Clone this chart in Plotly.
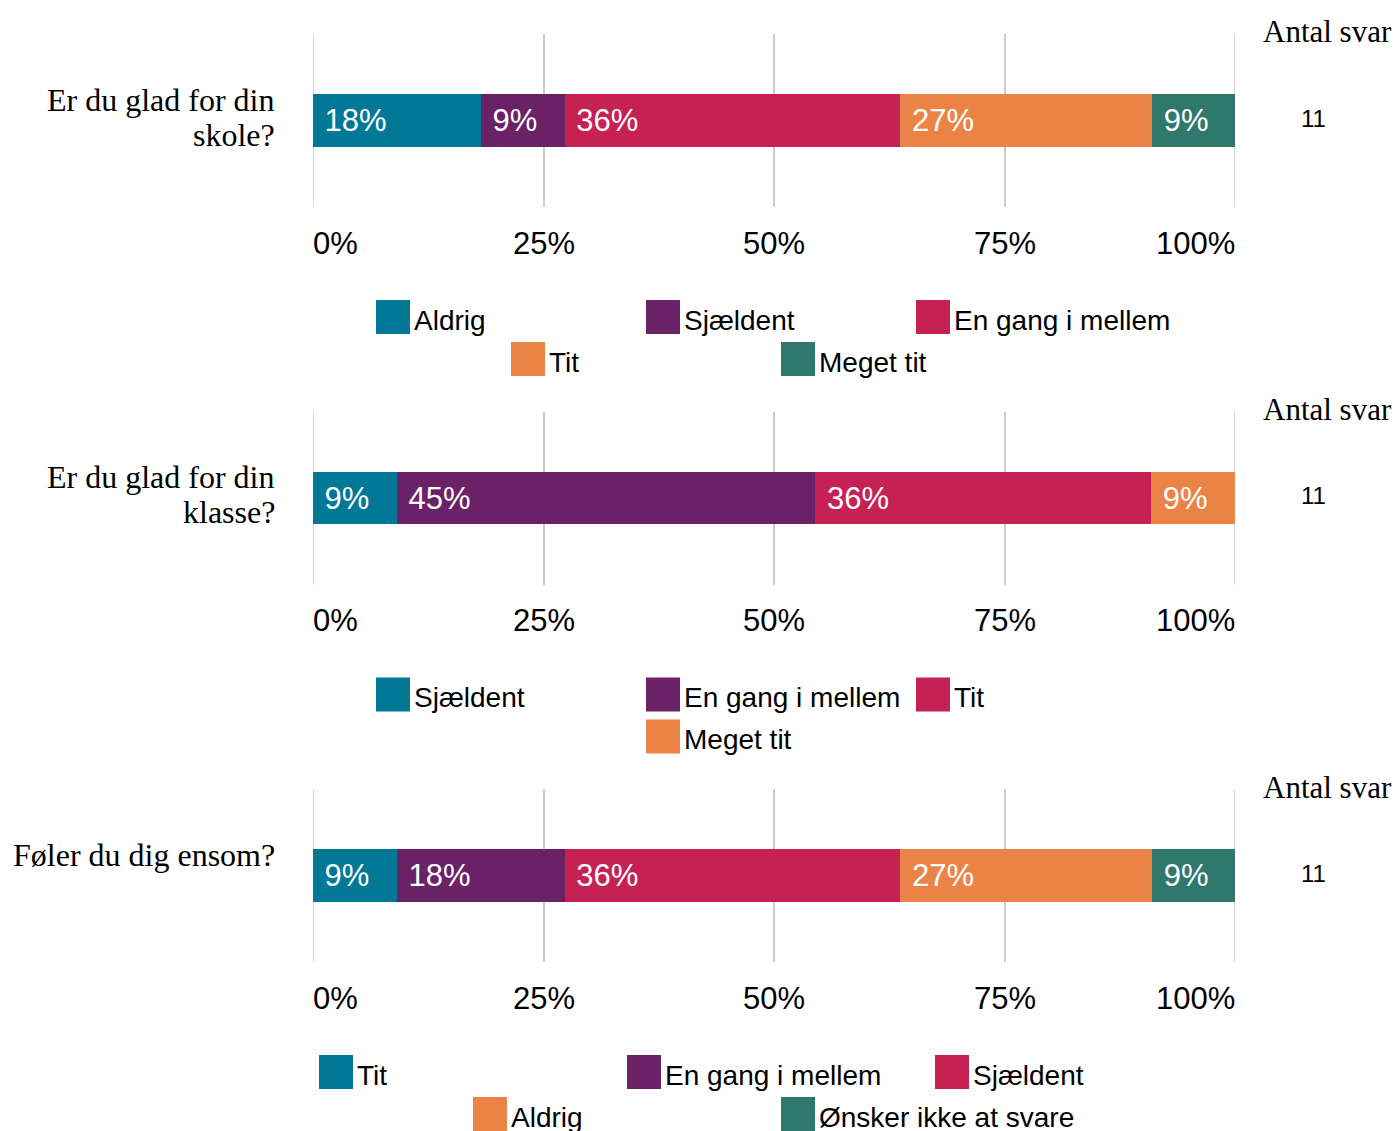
import plotly.graph_objects as go

# --- data -------------------------------------------------------------
questions = ["Er du glad for din<br>skole?", "Er du glad for din<br>klasse?", "Føler du dig ensom?"]

categories_1 = ["Aldrig", "Sjældent", "En gang i mellem", "Tit", "Meget tit"]
values_1 = [18.2, 9.1, 36.4, 27.3, 9.1]

categories_2 = ["Sjældent", "En gang i mellem", "Tit", "Meget tit"]
values_2 = [9.1, 45.4, 36.4, 9.1]

categories_3 = ["Tit", "En gang i mellem", "Sjældent", "Aldrig", "Ønsker ikke at svare"]
values_3 = [9.1, 18.2, 36.4, 27.3, 9.1]

answer_counts = [11, 11, 11]
count_header = "Antal svar"

tick_vals = [0, 25, 50, 75, 100]
tick_labels = ["0%", "25%", "50%", "75%", "100%"]

palette = ["#007896", "#6a2166", "#c52155", "#eb8347", "#30786c"]

# --- layout helpers ---------------------------------------------------
W, H = 1398, 1131
SANS = "Liberation Sans, Arial, sans-serif"
SERIF = "Liberation Serif, Times New Roman, serif"
GRID = "#cbcbcb"
X0, X1 = 313, 1235
panel_tops = [34, 411.5, 789]
panel_h = 173
legend_col_w = [270, 270, 308]
legend_per_row = 3


def fy(p):
    return 1 - p / H


def fx(p):
    return p / W


panels = [(categories_1, values_1), (categories_2, values_2), (categories_3, values_3)]

fig = go.Figure()
annotations = []
shapes = []
layout = {}

for i, (cats, vals) in enumerate(panels):
    s = "" if i == 0 else str(i + 1)
    top = panel_tops[i]
    for j, (c, v) in enumerate(zip(cats, vals)):
        fig.add_trace(go.Bar(
            x=[v], y=[0], orientation="h", name=c,
            xaxis="x" + s, yaxis="y" + s,
            width=0.306, marker=dict(color=palette[j], line=dict(width=0)),
            texttemplate="\u00a0%{x:.0f}%", textposition="inside",
            insidetextanchor="start", constraintext="none",
            textfont=dict(family=SANS, size=31, color="white"),
            showlegend=False, hoverinfo="name+x",
        ))

    layout["xaxis" + s] = dict(
        domain=[fx(X0), fx(X1)], range=[0, 100], anchor="y" + s,
        tickvals=tick_vals, showticklabels=False, ticks="",
        showgrid=True, gridcolor=GRID, gridwidth=1.5,
        zeroline=False, showline=False, fixedrange=True,
    )
    layout["yaxis" + s] = dict(
        domain=[fy(top + panel_h), fy(top)], range=[-0.5, 0.5], anchor="x" + s,
        visible=False, fixedrange=True,
    )

    # grid lines at the range ends (plotly skips them on the edges)
    for tv in (tick_vals[0], tick_vals[-1]):
        shapes.append(dict(
            type="line", xref="x" + s, yref="y" + s + " domain",
            x0=tv, x1=tv, y0=0, y1=1, layer="below",
            line=dict(color=GRID, width=1.5),
        ))

    # tick labels (ends kept inside the plot edges)
    for k, (tv, tl) in enumerate(zip(tick_vals, tick_labels)):
        if k == 0:
            xa, xs = "left", -2
        elif k == len(tick_vals) - 1:
            xa, xs = "right", 2
        else:
            xa, xs = "center", 0
        annotations.append(dict(
            x=tv, xref="x" + s, y=fy(top + 209), yref="paper", text=tl,
            xanchor=xa, xshift=xs, yanchor="middle", showarrow=False,
            font=dict(family=SANS, size=31, color="black"),
        ))

    # question label, line by line
    for li, line in enumerate(questions[i].split("<br>")):
        annotations.append(dict(
            x=fx(277), xref="paper", y=fy(top + 66 + 35 * li), yref="paper",
            text=line, xanchor="right", yanchor="middle", showarrow=False,
            font=dict(family=SERIF, size=32, color="black"),
        ))

    # count column
    annotations.append(dict(
        x=fx(1261), xref="paper", y=fy(top - 2), yref="paper", text=count_header,
        xanchor="left", yanchor="middle", showarrow=False,
        font=dict(family=SERIF, size=31, color="black"),
    ))
    annotations.append(dict(
        x=fx(1313), xref="paper", y=fy(top + 84), yref="paper", text=str(answer_counts[i]),
        xanchor="center", yanchor="middle", showarrow=False,
        font=dict(family=SANS, size=24, color="black"),
    ))

    # legend (centered rows, fixed column width)
    cw = legend_col_w[i]
    rows = [cats[r:r + legend_per_row] for r in range(0, len(cats), legend_per_row)]
    idx = 0
    for r, row in enumerate(rows):
        cy = top + 283 + 42 * r
        start = 780 - len(row) * cw / 2
        for k, c in enumerate(row):
            x = start + k * cw
            shapes.append(dict(
                type="rect", xref="paper", yref="paper",
                x0=fx(x + 1), x1=fx(x + 35), y0=fy(cy + 17), y1=fy(cy - 17),
                fillcolor=palette[idx], line=dict(width=0),
            ))
            annotations.append(dict(
                x=fx(x + 37), xref="paper", y=fy(cy + 3), yref="paper", text=c,
                xanchor="left", yanchor="middle", showarrow=False,
                font=dict(family=SANS, size=28, color="black"),
            ))
            idx += 1

fig.update_layout(
    **layout,
    barmode="stack",
    width=W, height=H,
    margin=dict(l=0, r=0, t=0, b=0),
    plot_bgcolor="white", paper_bgcolor="white",
    annotations=annotations, shapes=shapes,
    showlegend=False,
)

fig.write_html(
    "out.html",
    config={"displayModeBar": False},
    post_script="document.body.style.margin='0';",
)
